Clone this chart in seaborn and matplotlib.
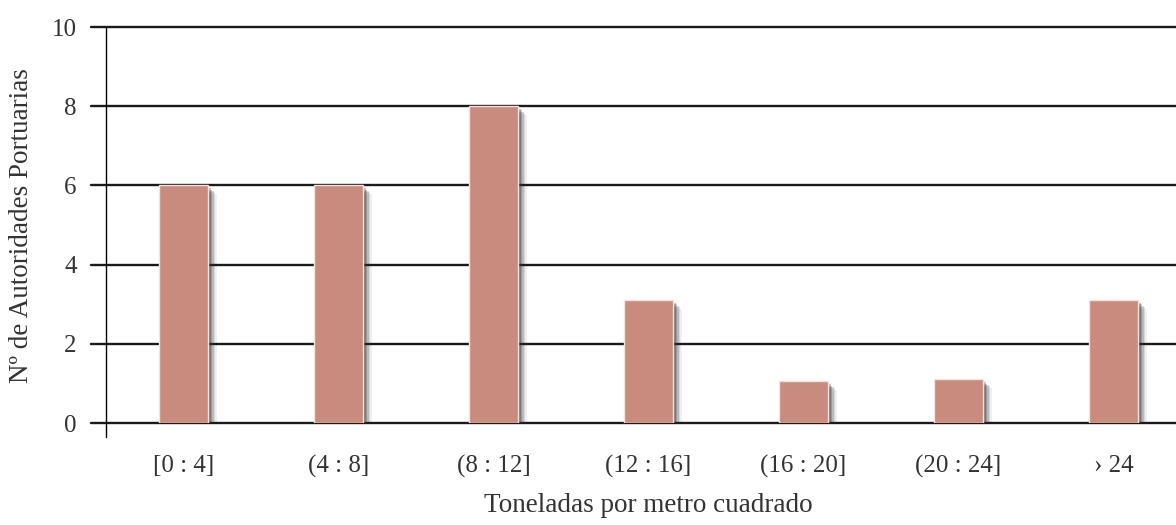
import matplotlib
matplotlib.use("Agg")
import matplotlib.pyplot as plt
import matplotlib.patheffects as pe
import pandas as pd
import seaborn as sns

# data
categories = ["[0 : 4]", "(4 : 8]", "(8 : 12]", "(12 : 16]", "(16 : 20]", "(20 : 24]", "› 24"]
counts = [6, 6, 8, 3.1, 1.05, 1.1, 3.1]

df = pd.DataFrame({"rango": categories, "n": counts})

sns.set_style("white")
plt.rcParams["font.family"] = ["Liberation Serif", "DejaVu Serif"]

fig = plt.figure(figsize=(11.76, 5.25), dpi=100)
# axis runs past the right edge, as in the original
ax = fig.add_axes([106 / 1176, 1 - 423 / 525, 1085 / 1176, 396 / 525])

sns.barplot(data=df, x="rango", y="n", color="#C98B7E", width=0.32,
            saturation=1, edgecolor="#F3E2DE", linewidth=1, ax=ax, zorder=3)

# soft drop shadow, built from a few stacked offsets
shadow = [pe.SimplePatchShadow(offset=(o, -o), shadow_rgbFace="#333333", alpha=a)
          for o, a in [(6, 0.08), (5, 0.12), (4, 0.18), (3, 0.25), (2, 0.3)]]
for bar in ax.patches:
    bar.set_path_effects(shadow + [pe.Normal()])

ax.set_ylim(0, 10)
ax.set_xlim(-0.5, 6.5)
ax.set_yticks([0, 2, 4, 6, 8, 10])
for y in [0, 2, 4, 6, 8, 10]:
    ax.axhline(y, color="#1a1a1a", linewidth=1.7, zorder=1, xmin=-0.0138, clip_on=False)

for s in ["top", "right", "bottom"]:
    ax.spines[s].set_visible(False)
ax.spines["left"].set_color("black")
ax.spines["left"].set_linewidth(1)
ax.spines["left"].set_bounds(-0.35, 10)
ax.spines["left"].set_zorder(2)

ax.set_xticks([i + 0.5 for i in range(6)], minor=True)
ax.tick_params(axis="x", which="minor", length=15, width=1, color="black", direction="out")
ax.tick_params(axis="x", which="major", length=0, pad=23, labelsize=18, labelcolor="#333333")
ax.tick_params(axis="y", length=0, pad=21, labelsize=18, labelcolor="#333333")

ax.set_xlabel("Toneladas por metro cuadrado", fontsize=19.5, color="#333333", va="center")
ax.set_ylabel("Nº de Autoridades Portuarias", fontsize=19.5, color="#333333", va="center")
ax.xaxis.set_label_coords((648 - 106) / 1085, -(506 - 423) / 396)
ax.yaxis.set_label_coords(-(106 - 22) / 1085, (423 - 226) / 396)

fig.savefig("out.png", dpi=100)
